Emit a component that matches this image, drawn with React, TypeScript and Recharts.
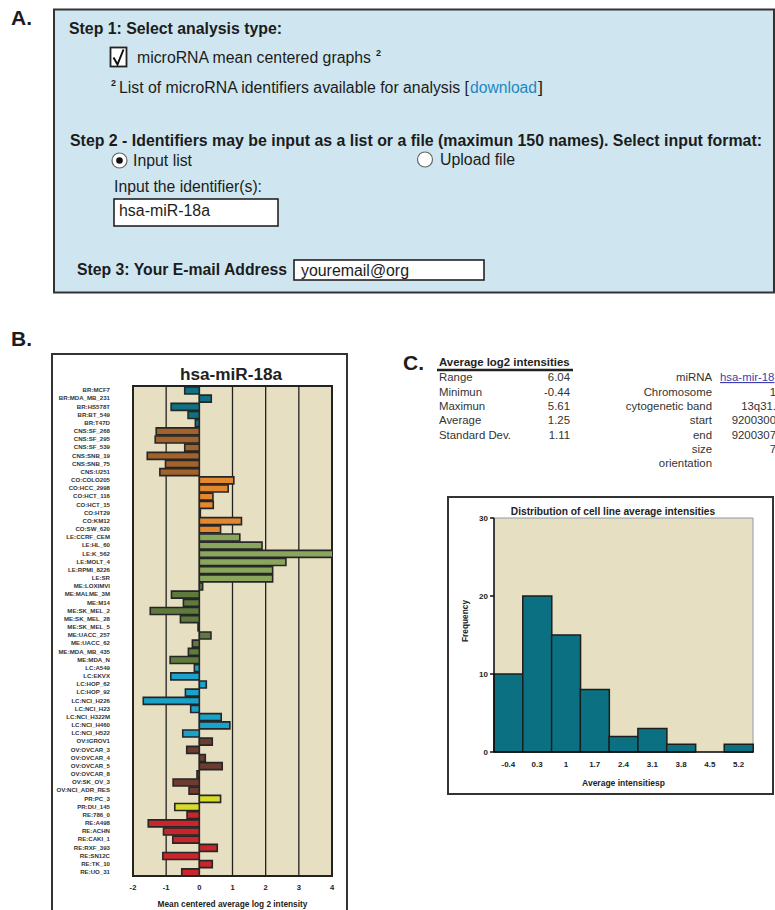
import React from 'react';
import { BarChart, Bar, XAxis, YAxis, CartesianGrid, Cell, ReferenceArea, Label } from 'recharts';

const cellLines = [
  'BR:MCF7', 'BR:MDA_MB_231', 'BR:HS578T', 'BR:BT_549', 'BR:T47D',
  'CNS:SF_268', 'CNS:SF_295', 'CNS:SF_539', 'CNS:SNB_19', 'CNS:SNB_75', 'CNS:U251',
  'CO:COLO205', 'CO:HCC_2998', 'CO:HCT_116', 'CO:HCT_15', 'CO:HT29', 'CO:KM12', 'CO:SW_620',
  'LE:CCRF_CEM', 'LE:HL_60', 'LE:K_562', 'LE:MOLT_4', 'LE:RPMI_8226', 'LE:SR',
  'ME:LOXIMVI', 'ME:MALME_3M', 'ME:M14', 'ME:SK_MEL_2', 'ME:SK_MEL_28', 'ME:SK_MEL_5',
  'ME:UACC_257', 'ME:UACC_62', 'ME:MDA_MB_435', 'ME:MDA_N',
  'LC:A549', 'LC:EKVX', 'LC:HOP_62', 'LC:HOP_92', 'LC:NCI_H226', 'LC:NCI_H23',
  'LC:NCI_H322M', 'LC:NCI_H460', 'LC:NCI_H522',
  'OV:IGROV1', 'OV:OVCAR_3', 'OV:OVCAR_4', 'OV:OVCAR_5', 'OV:OVCAR_8', 'OV:SK_OV_3', 'OV:NCI_ADR_RES',
  'PR:PC_3', 'PR:DU_145',
  'RE:786_0', 'RE:A498', 'RE:ACHN', 'RE:CAKI_1', 'RE:RXF_393', 'RE:SN12C', 'RE:TK_10', 'RE:UO_31',
];

const meanCentered = [
  -0.44, 0.36, -0.85, -0.34, -0.12,
  -1.3, -1.33, -0.44, -1.57, -1.02, -1.19,
  1.04, 0.87, 0.41, 0.42, 0.03, 1.27, 0.64,
  1.22, 1.89, 4.36, 2.61, 2.21, 2.21,
  0.1, -0.84, -0.48, -1.48, -0.57, -0.04,
  0.35, -0.21, -0.33, -0.88,
  -0.15, -0.86, 0.21, -0.42, -1.69, -0.26,
  0.66, 0.92, -0.5,
  0.39, -0.38, 0.18, 0.69, -0.07, -0.79, -0.31,
  0.64, -0.74,
  -0.37, -1.54, -1.08, -0.8, 0.54, -1.1, 0.39, -0.53,
];

const panelTicks = [-2, -1, 0, 1, 2, 3, 4];

const groupColors: Record<string, string> = {
  BR: '#0f7282',
  CNS: '#a2622b',
  CO: '#e4882f',
  LE: '#8aa65c',
  ME: '#5e7a3c',
  LC: '#1aa2c8',
  OV: '#6d3b2f',
  PR: '#d7dc2a',
  RE: '#c9262c',
};

const histBins = ['-0.4', '0.3', '1', '1.7', '2.4', '3.1', '3.8', '4.5', '5.2'];
const histCounts = [10, 20, 15, 8, 2, 3, 1, 0, 1];
const histYTicks = [0, 10, 20, 30];

const statLabels = ['Range', 'Minimun', 'Maximun', 'Average', 'Standard Dev.'];
const statValues = ['6.04', '-0.44', '5.61', '1.25', '1.11'];
const infoLabels = ['miRNA', 'Chromosome', 'cytogenetic band', 'start', 'end', 'size', 'orientation'];
const infoValues = ['hsa-mir-18', '1', '13q31.', '9200300', '9200307', '7', ''];

const barData = cellLines.map((name, i) => ({
  name,
  value: meanCentered[i],
  group: name.split(':')[0],
}));

const histData = histBins.map((bin, i) => ({ bin, count: histCounts[i] }));

const SANS = "'Liberation Sans', Arial, Helvetica, sans-serif";
const NARROW = "'Liberation Sans Narrow', 'Arial Narrow', 'Liberation Sans', Arial, sans-serif";

const CellTick = (props: any) => {
  const { x, y, payload } = props;
  return (
    <text x={x} y={y} dy={2.2} textAnchor="end" fontSize={6.1} fontWeight={700} fill="#333" fontFamily={SANS}>
      {payload.value}
    </text>
  );
};

const FreqLabel = (p: any) => {
  const vb = p.viewBox || { x: 0, y: 21, width: 46, height: 234 };
  const x = vb.x + 17;
  const y = vb.y + vb.height * 0.44;
  return (
    <text x={x} y={y} transform={`rotate(-90 ${x} ${y})`} textAnchor="middle" dominantBaseline="central"
      fontSize={8.3} fontWeight={700} fill="#222">
      Frequency
    </text>
  );
};

const T = (p: any) => {
  const { children, ...rest } = p;
  return (
    <text fontFamily={NARROW} fontSize={16} fill="#1c1c1c" lengthAdjust="spacingAndGlyphs" {...rest}>
      {children}
    </text>
  );
};

export default function App() {
  const rowY = [381, 395.5, 410, 424.3, 438.7, 453, 467.3];
  return (
    <div style={{ position: 'absolute', left: 0, top: 0, width: 775, height: 910, overflow: 'hidden', background: '#fff', fontFamily: SANS }}>
      {/* Panel B chart */}
      <div style={{ position: 'absolute', left: 52, top: 354 }}>
        <BarChart width={296} height={556} layout="vertical" data={barData}
          margin={{ top: 32, right: 16, bottom: 0, left: 0 }} barSize={7}>
          <CartesianGrid horizontal={false} vertical={true} fill="#e7dfc1" stroke="#222" strokeWidth={1.3} />
          <XAxis type="number" domain={[-2, 4]} ticks={panelTicks} allowDataOverflow interval={0}
            tickLine={false} axisLine={false} tickSize={0} tickMargin={9} height={34}
            tick={{ fontSize: 7.6, fontWeight: 700, fill: '#222' }}>
            <Label value="Mean centered average log 2 intensity" position="insideBottom" offset={3}
              style={{ fontSize: 8.3, fontWeight: 700, fill: '#222' }} />
          </XAxis>
          <YAxis type="category" dataKey="name" width={81} interval={0} tickLine={false} axisLine={false}
            tickSize={0} tickMargin={23} tick={<CellTick />} />
          <Bar dataKey="value" isAnimationActive={false} stroke="#262626" strokeWidth={1.6}>
            {barData.map((d, i) => (
              <Cell key={i} fill={groupColors[d.group]} />
            ))}
          </Bar>
          <ReferenceArea x1={-2} x2={4} fill="none" stroke="#222" strokeWidth={2} ifOverflow="visible" />
        </BarChart>
      </div>

      {/* Histogram */}
      <div style={{ position: 'absolute', left: 448, top: 497 }}>
        <BarChart width={325} height={297} data={histData}
          margin={{ top: 21, right: 20, bottom: 0, left: 0 }} barCategoryGap={0}>
          <CartesianGrid horizontal={false} vertical={false} fill="#e7dfc1" />
          <ReferenceArea y1={0} y2={30} fill="none" stroke="#8c9cab" strokeWidth={1} ifOverflow="visible" />
          <XAxis dataKey="bin" interval={0} height={42} tickLine={false} axisLine={{ stroke: '#111', strokeWidth: 1.5 }}
            tickSize={0} tickMargin={9} tick={{ fontSize: 8, fontWeight: 700, fill: '#222' }}>
            <Label value="Average intensitiesp" position="insideBottom" offset={8}
              style={{ fontSize: 8.5, fontWeight: 700, fill: '#222' }} />
          </XAxis>
          <YAxis domain={[0, 30]} ticks={histYTicks} width={46} tickSize={4} tickMargin={2}
            axisLine={{ stroke: '#111', strokeWidth: 1.5 }} tickLine={{ stroke: '#111', strokeWidth: 1.5 }}
            tick={{ fontSize: 8, fontWeight: 700, fill: '#222' }}>
            <Label content={<FreqLabel />} />
          </YAxis>
          <Bar dataKey="count" fill="#0b7082" stroke="#1d1d1d" strokeWidth={1.5} isAnimationActive={false} />
        </BarChart>
      </div>

      {/* Overlay: panel A, frames, titles, stats */}
      <svg width={775} height={910} style={{ position: 'absolute', left: 0, top: 0, pointerEvents: 'none' }}>
        {/* Panel A */}
        <text x={11} y={25} fontFamily={SANS} fontSize={21} fontWeight={700} fill="#1c1c1c">A.</text>
        <rect x={54} y={9.5} width={720} height={283} fill="#cfe6f0" stroke="#333" strokeWidth={2} />
        <T x={69} y={33.5} textLength={213} fontWeight={700}>Step 1: Select analysis type:</T>
        <rect x={110.5} y={47.5} width={16} height={19} fill="#fff" stroke="#222" strokeWidth={1.8} />
        <path d="M 113.5 57.5 L 117.5 64.5 L 123.5 49.5" fill="none" stroke="#111" strokeWidth={2} />
        <T x={137} y={63} textLength={234}>microRNA mean centered graphs</T>
        <text x={376} y={56} fontFamily={SANS} fontSize={9} fontWeight={700} fill="#1c1c1c">2</text>
        <text x={111} y={86} fontFamily={SANS} fontSize={9} fontWeight={700} fill="#1c1c1c">2</text>
        <T x={119} y={92.5} textLength={350}>List of microRNA identifiers available for analysis [</T>
        <T x={470} y={92.5} textLength={67} fill="#1e86c6">download</T>
        <T x={538} y={92.5} textLength={5}>]</T>
        <T x={70} y={145.5} textLength={692} fontWeight={700}>Step 2 - Identifiers may be input as a list or a file (maximun 150 names). Select input format:</T>
        <circle cx={119.5} cy={160.5} r={7.5} fill="#fff" stroke="#666" strokeWidth={1.2} />
        <circle cx={119.5} cy={160.5} r={3.3} fill="#111" />
        <T x={133} y={166} textLength={59}>Input list</T>
        <circle cx={425} cy={159.5} r={7.5} fill="#fff" stroke="#666" strokeWidth={1.2} />
        <T x={440} y={164.5} textLength={75}>Upload file</T>
        <T x={114} y={192} textLength={148}>Input the identifier(s):</T>
        <rect x={114} y={199} width={164} height={27} fill="#fff" stroke="#222" strokeWidth={1.6} />
        <T x={119} y={215.5} textLength={91}>hsa-miR-18a</T>
        <T x={77} y={275} textLength={210} fontWeight={700}>Step 3: Your E-mail Address</T>
        <rect x={294} y={260} width={190} height={20} fill="#fff" stroke="#222" strokeWidth={1.6} />
        <T x={301} y={276} textLength={108}>youremail@org</T>

        {/* Panel B frame and title */}
        <text x={11} y={346} fontFamily={SANS} fontSize={21} fontWeight={700} fill="#1c1c1c">B.</text>
        <rect x={52} y={354} width={295} height={570} fill="none" stroke="#333" strokeWidth={2} />
        <text x={231} y={380} textAnchor="middle" fontFamily={SANS} fontSize={17.2} fontWeight={700} fill="#222">hsa-miR-18a</text>

        {/* Panel C */}
        <text x={403} y={370} fontFamily={SANS} fontSize={21} fontWeight={700} fill="#1c1c1c">C.</text>
        <text x={439} y={366} fontFamily={SANS} fontSize={11.4} fontWeight={700} fill="#222">Average log2 intensities</text>
        <line x1={437} y1={370} x2={573} y2={370} stroke="#222" strokeWidth={2.5} />
        {statLabels.map((l, i) => (
          <text key={'sl' + i} x={439} y={rowY[i]} fontFamily={SANS} fontSize={11.4} fill="#333">{l}</text>
        ))}
        {statValues.map((v, i) => (
          <text key={'sv' + i} x={570} y={rowY[i]} textAnchor="end" fontFamily={SANS} fontSize={11.4} fill="#333">{v}</text>
        ))}
        {infoLabels.map((l, i) => (
          <text key={'il' + i} x={712} y={rowY[i]} textAnchor="end" fontFamily={SANS} fontSize={11.4} fill="#333">{l}</text>
        ))}
        {infoValues.map((v, i) =>
          i === 0 ? (
            <text key={'iv' + i} x={720} y={rowY[i]} fontFamily={SANS} fontSize={11.4} fill="#3b3fae" textDecoration="underline">{v}</text>
          ) : (
            <text key={'iv' + i} x={776} y={rowY[i]} textAnchor="end" fontFamily={SANS} fontSize={11.4} fill="#333">{v}</text>
          )
        )}

        {/* Histogram frame and title */}
        <rect x={448} y={497} width={325} height={297} fill="none" stroke="#333" strokeWidth={2} />
        <text x={613} y={514.7} textAnchor="middle" fontFamily={SANS} fontSize={10.2} fontWeight={700} fill="#222">Distribution of cell line average intensities</text>
      </svg>
    </div>
  );
}
